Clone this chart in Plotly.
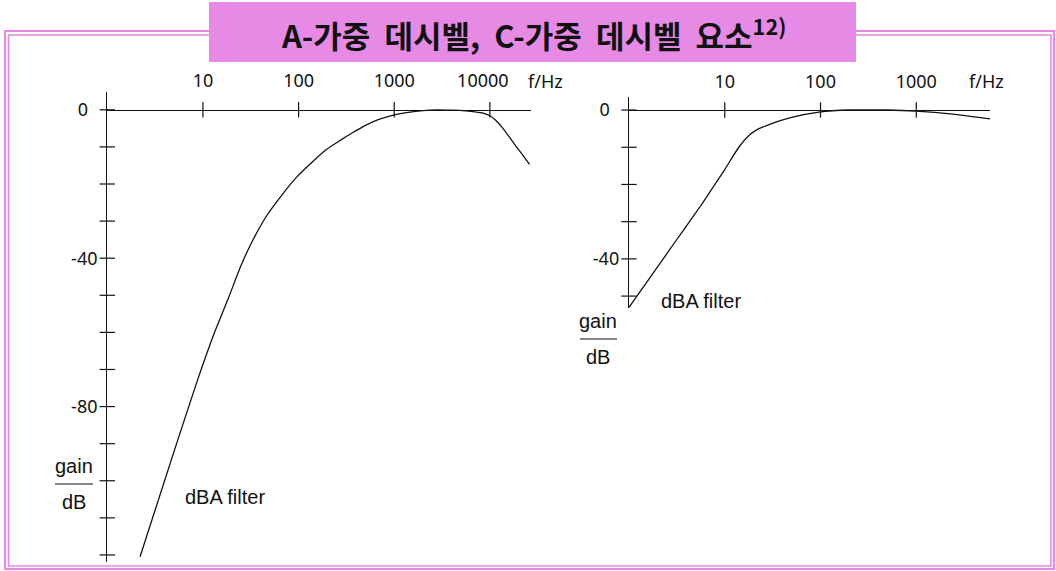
import plotly.graph_objects as go

W, H = 1056, 571

# ---------------- data ----------------
a_freq = [2.2, 5, 8.9, 13, 18.3, 25, 31, 46, 70, 95, 140, 195, 270, 366, 500, 690, 955, 1400, 2000, 2750,
          4000, 5600, 7000, 8500, 10000, 11500, 13500, 17000, 21000, 26000]
a_gain = [-120.5, -92, -72.4, -60.5, -51, -42, -36.7, -28.7, -22.3, -18.2, -14, -10.7, -8.3, -6.2, -4.2, -2.6,
          -1.5, -0.7, -0.2, 0, -0.1, -0.3, -0.55, -0.9, -1.6, -2.8, -4.8, -8.3, -11.5, -14.7]

c_freq = [1, 2.1, 3, 4.8, 6, 10, 14, 18, 22, 30, 50, 100, 200, 500, 1000, 2400, 5900]
c_gain = [-53, -41.3, -35.6, -28.2, -24.6, -16, -10, -6.8, -5.2, -3.8, -2, -0.5, 0, 0, -0.3, -1.1, -2.4]

x_ticks_left = [10, 100, 1000, 10000]
x_ticks_right = [10, 100, 1000]
y_minor_left = [0, -10, -20, -30, -40, -50, -60, -70, -80, -90, -100, -110, -120]
y_minor_right = [0, -10, -20, -30, -40, -50]
y_labels_left = [0, -40, -80]
y_labels_right = [0, -40]

SP = "\u00a0\u00a0"
TITLE = f"A-가중{SP}데시벨,{SP}C-가중{SP}데시벨{SP}요소<sup>12)</sup>"
SERIES_LABEL = "dBA filter"
X_UNIT = "f/Hz"

# ---------------- styling helpers ----------------
PINK = "#e68ae6"
INK = "#111111"
TICK_FONT = dict(family="Noto Sans", size=18, color=INK)
TEXT_FONT = dict(family="Liberation Sans", size=20, color=INK)
NB = "\u00a0"


def px_x(p):
    return p / W


def px_y(p):
    return 1 - p / H


def ylbl(v):
    s = str(v)
    return s + NB * 2 if v == 0 else s


def xlbl(v):
    s = str(v)
    return s + NB * 3 if v >= 10000 else s


fig = go.Figure()

# curves
fig.add_trace(go.Scatter(x=a_freq, y=a_gain, mode="lines",
                         line=dict(color=INK, width=1.3, shape="spline", smoothing=0.6),
                         xaxis="x", yaxis="y", showlegend=False, hoverinfo="skip"))
fig.add_trace(go.Scatter(x=c_freq, y=c_gain, mode="lines",
                         line=dict(color=INK, width=1.3, shape="spline", smoothing=0.5),
                         xaxis="x2", yaxis="y2", showlegend=False, hoverinfo="skip"))

# crossing tick marks
tick_marker_ns = dict(symbol="line-ns", size=11, line=dict(color=INK, width=1.2))
tick_marker_ew = dict(symbol="line-ew", size=11, line=dict(color=INK, width=1.2))
fig.add_trace(go.Scatter(x=x_ticks_left, y=[0] * len(x_ticks_left), mode="markers", marker=tick_marker_ns,
                         xaxis="x", yaxis="y", showlegend=False, hoverinfo="skip", cliponaxis=False))
fig.add_trace(go.Scatter(x=[1] * len(y_minor_left), y=y_minor_left, mode="markers", marker=tick_marker_ew,
                         xaxis="x", yaxis="y", showlegend=False, hoverinfo="skip", cliponaxis=False))
fig.add_trace(go.Scatter(x=x_ticks_right, y=[0] * len(x_ticks_right), mode="markers", marker=tick_marker_ns,
                         xaxis="x2", yaxis="y2", showlegend=False, hoverinfo="skip", cliponaxis=False))
fig.add_trace(go.Scatter(x=[1] * len(y_minor_right), y=y_minor_right, mode="markers", marker=tick_marker_ew,
                         xaxis="x2", yaxis="y2", showlegend=False, hoverinfo="skip", cliponaxis=False))

# axis geometry (pixels)
L_x0, L_x1 = 107.3, 531
L_y0, L_y1 = 92, 562          # top, bottom
L_xr = [0, 4.43]
L_yr = [-121.9, 4.8]

R_x0, R_x1 = 629, 990
R_y0, R_y1 = 97, 308
R_xr = [0, 3.77]
R_yr = [-53.2, 3.5]


def zero_pos(y0, y1, yr):
    d0, d1 = px_y(y1), px_y(y0)
    return d0 + (0 - yr[0]) / (yr[1] - yr[0]) * (d1 - d0)


common_x = dict(type="log", side="top", showline=True, linecolor=INK, linewidth=1.4, ticks="",
                showgrid=False, zeroline=False, tickfont=TICK_FONT, ticklabelstandoff=15, fixedrange=True)
common_y = dict(showline=True, linecolor=INK, linewidth=1.4, ticks="", showgrid=False, zeroline=False,
                tickfont=TICK_FONT, ticklabelstandoff=5, side="left", fixedrange=True)

fig.update_layout(
    width=W, height=H, autosize=False,
    margin=dict(l=0, r=0, t=0, b=0),
    paper_bgcolor="white", plot_bgcolor="rgba(0,0,0,0)",
    showlegend=False,
    xaxis=dict(common_x, domain=[px_x(L_x0), px_x(L_x1)], range=L_xr, anchor="free",
               position=zero_pos(L_y0, L_y1, L_yr),
               tickvals=x_ticks_left, ticktext=[xlbl(v) for v in x_ticks_left]),
    yaxis=dict(common_y, domain=[px_y(L_y1), px_y(L_y0)], range=L_yr, anchor="x",
               tickvals=y_labels_left, ticktext=[ylbl(v) for v in y_labels_left]),
    xaxis2=dict(common_x, domain=[px_x(R_x0), px_x(R_x1)], range=R_xr, anchor="free",
                position=zero_pos(R_y0, R_y1, R_yr),
                tickvals=x_ticks_right, ticktext=[xlbl(v) for v in x_ticks_right]),
    yaxis2=dict(common_y, domain=[px_y(R_y1), px_y(R_y0)], range=R_yr, anchor="x2",
                tickvals=y_labels_right, ticktext=[ylbl(v) for v in y_labels_right]),
)

shapes = [
    # double pink frame
    dict(type="rect", xref="paper", yref="paper", x0=px_x(5), x1=px_x(1054), y0=px_y(569), y1=px_y(31),
         line=dict(color=PINK, width=2.2), layer="below"),
    dict(type="rect", xref="paper", yref="paper", x0=px_x(8.5), x1=px_x(1051), y0=px_y(566), y1=px_y(35),
         line=dict(color=PINK, width=1.6), layer="below"),
    # title box
    dict(type="rect", xref="paper", yref="paper", x0=px_x(209), x1=px_x(856), y0=px_y(62), y1=px_y(2),
         fillcolor=PINK, line=dict(width=0), layer="below"),
    # gain/dB fraction bars
    dict(type="line", xref="paper", yref="paper", x0=px_x(55), x1=px_x(93), y0=px_y(484), y1=px_y(484),
         line=dict(color=INK, width=1.2)),
    dict(type="line", xref="paper", yref="paper", x0=px_x(580), x1=px_x(617), y0=px_y(339), y1=px_y(339),
         line=dict(color=INK, width=1.2)),
]
fig.update_layout(shapes=shapes)


def ann(text, x, y, font, xanchor="center"):
    return dict(text=text, x=px_x(x), y=px_y(y), xref="paper", yref="paper", showarrow=False,
                xanchor=xanchor, yanchor="middle", font=font)


annotations = [
    ann(TITLE, 533, 34, dict(family="Noto Sans CJK KR", size=31, color=INK, weight="bold")),
    ann(X_UNIT, 545, 81, TICK_FONT),
    ann(X_UNIT, 986, 81, TICK_FONT),
    ann("gain", 74, 466, TEXT_FONT),
    ann("dB", 74, 502, TEXT_FONT),
    ann("gain", 598, 321, TEXT_FONT),
    ann("dB", 598, 357, TEXT_FONT),
    ann(SERIES_LABEL, 225, 497, TEXT_FONT),
    ann(SERIES_LABEL, 701, 301, TEXT_FONT),
]
fig.update_layout(annotations=annotations)

fig.write_html("out.html", config={"displayModeBar": False},
               post_script="document.body.style.margin='0px';")
